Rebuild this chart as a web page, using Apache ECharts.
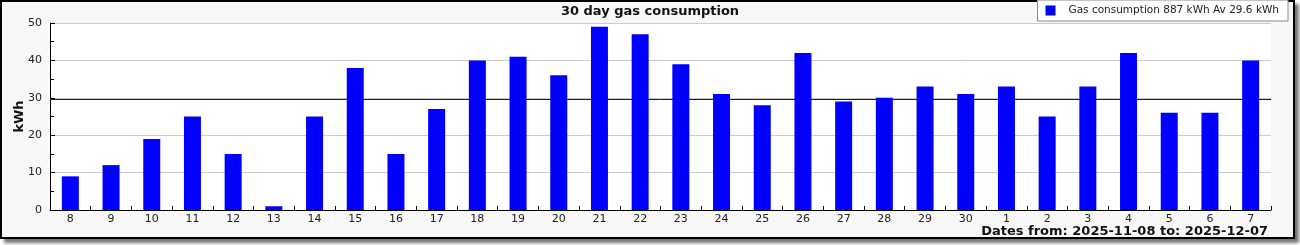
<!DOCTYPE html>
<html><head><meta charset="utf-8">
<script src="https://cdn.jsdelivr.net/npm/echarts@6/dist/echarts.min.js"></script>
<style>
html,body{margin:0;padding:0;background:#fff;}
#frame{position:absolute;left:0;top:0;width:1291px;height:235px;border:2px solid #000;background:#f8f8f8;box-shadow:4px 4px 3px #777;}
#chart{position:absolute;left:0;top:0;width:1300px;height:245px;}
</style></head>
<body>
<div id="frame"></div>
<div id="chart"></div>
<script>
const categories = ['8','9','10','11','12','13','14','15','16','17','18','19','20','21','22','23','24','25','26','27','28','29','30','1','2','3','4','5','6','7'];
const gasValues = [9,12,19,25,15,1,25,38,15,27,40,41,36,49,47,39,31,28,42,29,30,33,31,33,25,33,42,26,26,40];
const yTicks = [0,10,20,30,40,50];
const titleText = '30 day gas consumption';
const dateText = 'Dates from: 2025-11-08 to: 2025-12-07';

const total = gasValues.reduce((a,b)=>a+b,0);
const avg = Math.round(total/gasValues.length*10)/10;
const seriesName = 'Gas consumption ' + total + ' kWh Av ' + avg + ' kWh';
const FONT = 'DejaVu Sans';
const BLUE = '#0000ff';

const chart = echarts.init(document.getElementById('chart'), null, {renderer:'canvas'});
chart.setOption({
  animation:false,
  textStyle:{fontFamily:FONT},
  title:[
    {text:titleText, left:'center', top:0, textStyle:{fontFamily:FONT,fontSize:13,fontWeight:'bold',color:'#111'}},
    {text:dateText, right:32, top:225, padding:0, textStyle:{fontFamily:FONT,fontSize:13,fontWeight:'bold',color:'#111'}}
  ],
  legend:{
    right:12, top:0, itemWidth:10, itemHeight:10, icon:'rect',
    backgroundColor:'#fff', borderColor:'#888', borderWidth:1, borderRadius:0,
    padding:[5,9,5,8],
    textStyle:{fontFamily:FONT,fontSize:10.5,color:'#222',padding:[0,0,0,8]},
    data:[seriesName]
  },
  grid:{left:50, top:23, right:29, bottom:35, show:true, backgroundColor:'#fff', borderWidth:0, containLabel:false, outerBoundsMode:'none'},
  xAxis:{
    type:'category', data:categories, boundaryGap:true,
    axisLine:{lineStyle:{color:'#000',width:1}},
    axisTick:{show:true, inside:true, length:4, alignWithLabel:false, lineStyle:{color:'#000'}},
    axisLabel:{fontFamily:FONT,fontSize:11,color:'#222',margin:4,interval:0},
    splitLine:{show:false}
  },
  yAxis:{
    type:'value', min:yTicks[0], max:yTicks[yTicks.length-1], interval:10,
    name:'kWh', nameLocation:'middle', nameGap:24, nameMoveOverlap:false,
    nameTextStyle:{fontFamily:FONT,fontSize:13,fontWeight:'bold',color:'#111'},
    axisLine:{show:true,lineStyle:{color:'#000',width:1}},
    axisTick:{show:true, inside:true, length:5, lineStyle:{color:'#000'}},
    minorTick:{show:true, splitNumber:2, length:4, lineStyle:{color:'#000'}},
    axisLabel:{fontFamily:FONT,fontSize:11,color:'#222',margin:8},
    splitLine:{show:true,lineStyle:{color:'#ccc',width:1}}
  },
  series:[{
    name:seriesName, type:'bar', data:gasValues, barWidth:17,
    itemStyle:{color:BLUE},
    markLine:{silent:true, symbol:['none','none'], label:{show:false},
      lineStyle:{color:BLUE,width:1,type:'solid'},
      data:[{yAxis:avg}]}
  }]
});
</script>
</body></html>
